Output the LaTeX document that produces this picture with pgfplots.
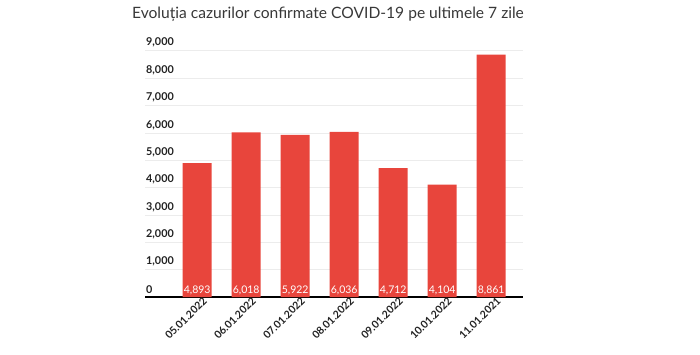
\documentclass[border=0pt]{standalone}
\usepackage{pgfplots}
\pgfplotsset{compat=1.18}
\usepackage{fontspec}
\setmainfont{Lato}
\definecolor{barred}{HTML}{E8453C}
\definecolor{txt}{HTML}{222222}
\begin{document}
\begin{tikzpicture}[x=1pt,y=1pt]
\path[use as bounding box] (0pt,0pt) rectangle (700pt,354pt);
\node[font=\fontsize{15.6}{17}\selectfont, text=txt!90] at (328pt,340pt) {Evoluția cazurilor confirmate COVID-19 pe ultimele 7 zile};
\begin{axis}[
  at={(145pt,57pt)}, anchor=south west,
  scale only axis, width=378pt, height=246.3pt,
  xmin=-1.065, xmax=6.65, ymin=0, ymax=9000,
  axis lines*=left,
  x axis line style={black, line width=1.3pt, -},
  y axis line style={draw=none},
  xtick={0,...,6}, xtick style={draw=none},
  xticklabels={05.01.2022,06.01.2022,07.01.2022,08.01.2022,09.01.2022,10.01.2022,11.01.2021},
  xticklabel style={rotate=45, anchor=north east, font=\fontsize{10.5}{12}\selectfont\bfseries, text=txt, inner sep=1pt, xshift=5pt, yshift=-2pt},
  ytick={0,1000,...,9000},
  ymajorgrids, grid style={gray!15, line width=0.6pt},
  ytick style={draw=none},
  /pgf/number format/assume math mode=true,
  yticklabel style={anchor=south west, font=\fontsize{10.8}{12}\selectfont\bfseries, text=txt, inner sep=0pt, xshift=1pt, yshift=3pt},
  clip=false,
]
\addplot[ybar, bar width=29pt, fill=barred, draw=none] coordinates {(0,4893) (1,6018) (2,5922) (3,6036) (4,4712) (5,4104) (6,8861)};
\addplot[draw=none, mark=none, nodes near coords, point meta=explicit symbolic,
  every node near coord/.style={anchor=base, text=white, font=\fontsize{10.5}{12}\selectfont, inner sep=0pt, yshift=3.5pt}]
  coordinates {(0,0) [4,893] (1,0) [6,018] (2,0) [5,922] (3,0) [6,036] (4,0) [4,712] (5,0) [4,104] (6,0) [8,861]};
\end{axis}
\end{tikzpicture}
\end{document}
